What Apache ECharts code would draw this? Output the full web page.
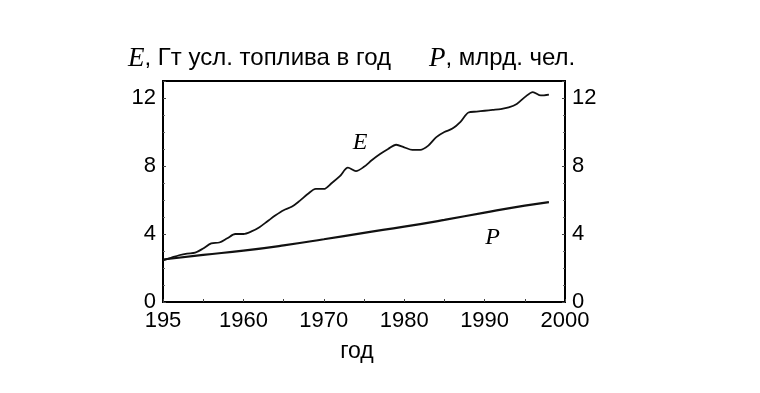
<!DOCTYPE html>
<html>
<head>
<meta charset="utf-8">
<script src="https://cdn.jsdelivr.net/npm/echarts@6/dist/echarts.min.js"></script>
<style>
html,body{margin:0;padding:0;background:#fff;}
#chart{width:760px;height:393px;}
</style>
</head>
<body>
<div id="chart"></div>
<script>
const yearsE = [1950,1951,1952,1953,1954,1955,1956,1957,1958,1959,1960,1961,1962,1963,1964,1965,1966,1967,1968,1969,1970,1971,1972,1973,1974,1975,1976,1977,1978,1979,1980,1981,1982,1983,1984,1985,1986,1987,1988,1989,1990,1991,1992,1993,1994,1995,1996,1997,1998];
const energyE = [2.45,2.6,2.75,2.85,2.9,3.15,3.45,3.5,3.75,4.0,4.0,4.15,4.4,4.75,5.1,5.4,5.6,5.95,6.35,6.65,6.65,7.0,7.4,7.9,7.7,7.95,8.35,8.7,9.0,9.25,9.1,8.95,8.95,9.2,9.7,10.0,10.2,10.6,11.15,11.2,11.25,11.3,11.35,11.45,11.65,12.05,12.35,12.15,12.2];
const yearsP = [1950,1955,1960,1965,1970,1975,1980,1985,1990,1995,1998];
const popP = [2.5,2.77,3.02,3.33,3.69,4.07,4.43,4.83,5.26,5.67,5.88];
const xTicks = {min:1950, max:2000, interval:10};
const yTicks = {min:0, max:13, interval:4};
const leftTitle = ', Гт усл. топлива в год';
const rightTitle = ', млрд. чел.';
const xName = 'год';

const chart = echarts.init(document.getElementById('chart'));
const sans = 'Liberation Sans, Arial, sans-serif';
const serifFont = 'Liberation Serif, Times New Roman, serif';
const serifRich = {fontFamily:serifFont, fontStyle:'italic', fontSize:27, color:'#000'};
function yAxisCfg(pos){
  return {
    type:'value', position:pos, min:yTicks.min, max:yTicks.max, interval:yTicks.interval,
    axisLine:{show:true, lineStyle:{color:'#000', width:2}},
    axisTick:{show:true, inside:true, length:3, lineStyle:{color:'#444'}},
    minorTick:{show:true, splitNumber:4, length:2, lineStyle:{color:'#666'}},
    splitLine:{show:false},
    axisLabel:{color:'#000', fontFamily:sans, fontSize:22, margin:7, showMaxLabel:false,
      formatter:function(v){return v>12?'':String(v);}}
  };
}
chart.setOption({
  animation:false,
  backgroundColor:'#fff',
  title:[
    {text:'{e|E}' + leftTitle, left:123, top:40,
      textStyle:{fontFamily:sans, fontSize:24, fontWeight:'normal', color:'#000', rich:{e:serifRich}}},
    {text:'{e|P}' + rightTitle, left:424, top:40,
      textStyle:{fontFamily:sans, fontSize:24, fontWeight:'normal', color:'#000', rich:{e:serifRich}}}
  ],
  grid:{left:163, right:195, top:81, bottom:91, show:true, borderColor:'#000', borderWidth:2, backgroundColor:'transparent'},
  xAxis:{
    type:'value', min:xTicks.min, max:xTicks.max, interval:xTicks.interval,
    name:xName, nameLocation:'middle', nameGap:38,
    nameTextStyle:{fontFamily:sans, fontSize:23, color:'#000', padding:[0,14,0,0]},
    axisLine:{show:true, lineStyle:{color:'#000', width:2}},
    axisTick:{show:true, inside:true, length:3, lineStyle:{color:'#444'}},
    minorTick:{show:true, splitNumber:2, length:3, lineStyle:{color:'#444'}},
    splitLine:{show:false},
    axisLabel:{color:'#000', fontFamily:sans, fontSize:22, margin:8,
      formatter:function(v){return v===1950?'195':String(v);}}
  },
  yAxis:[yAxisCfg('left'), yAxisCfg('right')],
  series:[
    {type:'line', name:'E', yAxisIndex:0, showSymbol:false, smooth:0.3,
      lineStyle:{color:'#111', width:1.8},
      data:yearsE.map((y,i)=>[y,energyE[i]]),
      markPoint:{symbol:'circle', symbolSize:0, silent:true,
        label:{show:true, formatter:'E', color:'#000', fontFamily:serifFont, fontStyle:'italic', fontSize:24},
        data:[{coord:[1974.5,9.4]}]}
    },
    {type:'line', name:'P', yAxisIndex:1, showSymbol:false, smooth:true,
      lineStyle:{color:'#111', width:2.2},
      data:yearsP.map((y,i)=>[y,popP[i]]),
      markPoint:{symbol:'circle', symbolSize:0, silent:true,
        label:{show:true, formatter:'P', color:'#000', fontFamily:serifFont, fontStyle:'italic', fontSize:24},
        data:[{coord:[1991,3.8]}]}
    }
  ]
});
</script>
</body>
</html>
